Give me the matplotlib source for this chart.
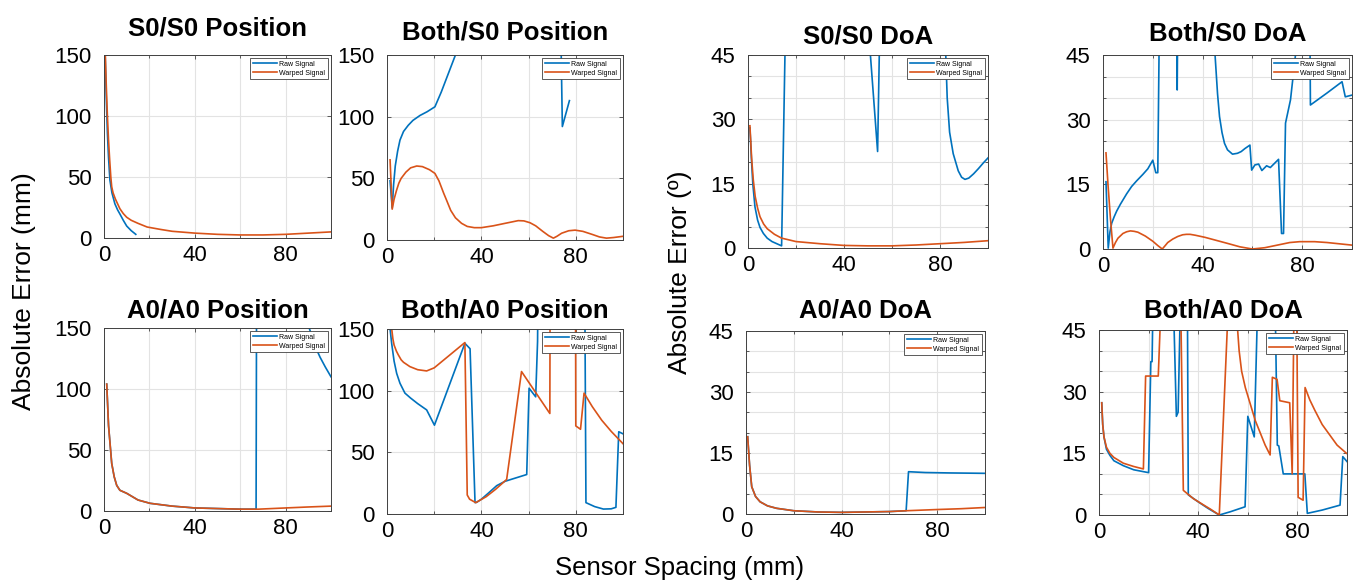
import numpy as np
import matplotlib
matplotlib.use("Agg")
import matplotlib.pyplot as plt
from matplotlib.ticker import MultipleLocator

plt.rcParams['font.family'] = ['Liberation Sans', 'DejaVu Sans']

BLUE = '#0072BD'
ORANGE = '#D95319'

# ---- data ----
# S0/S0 Position
s0s0_pos_raw_x = [0.5, 1, 1.5, 2, 2.6, 3.5, 4.8, 6, 7, 8.5, 10, 12, 14]
s0s0_pos_raw_y = [150, 115, 86, 66, 47.5, 37, 28, 23, 19.7, 14.5, 9.8, 6, 3]
s0s0_pos_warp_x = [0.5, 1, 1.5, 2, 2.5, 3, 3.4, 4, 5, 6, 7, 8.5, 10, 12, 15, 19, 25, 30,
                   40, 50, 60, 70, 80, 90, 100]
s0s0_pos_warp_y = [155, 125, 100, 80, 64, 50, 42, 37, 32, 28, 24, 20, 17, 14.5, 12, 9, 7,
                   5.5, 4, 3, 2.5, 2.5, 3, 4, 5]

# Both/S0 Position
both_s0_pos_raw_x = [1.3, 2.2, 2.8, 3.5, 4.5, 5.5, 7, 9, 11, 14, 17, 20.3, 23, 26, 29, 31,
                     73, 74.3, 77.3]
both_s0_pos_raw_y = [48, 26, 45, 60, 72, 81, 88, 93, 97, 101, 104, 108, 120, 135, 150, 165,
                     250, 92, 113]
both_s0_pos_warp_x = [1.3, 2.2, 3, 4, 5, 6, 8, 10, 12.6, 15, 18, 20.3, 22, 24, 25.3, 27, 29,
                      31.6, 34, 37, 40, 45, 50, 55.6, 58, 60.6, 63, 66, 68.5, 70.5, 72, 74,
                      77, 79.7, 83, 87, 90, 93, 96, 100]
both_s0_pos_warp_y = [65, 25, 33, 40, 46, 50, 55, 58.5, 60, 59.5, 57, 54, 48, 38, 32, 24, 18,
                      13.5, 11, 10, 10, 11.5, 13.5, 15.7, 15.5, 14, 11.5, 7, 3.5, 1.5, 3, 5.5,
                      7.5, 8, 7, 4.5, 2.5, 1.5, 2, 3]

# S0/S0 DoA
s0s0_doa_raw_x = [0.8, 1.5, 2, 2.9, 4, 5, 6.4, 8, 10, 12, 14, 15.4, 16, 50, 51, 54, 54.7,
                  55, 81, 82.4, 83, 84, 85.5, 87.6, 89, 90.4, 92, 94, 96, 98, 100]
s0s0_doa_raw_y = [28, 20, 15, 9.6, 6.5, 4.8, 3.4, 2.3, 1.5, 1, 0.5, 45, 80, 80, 45, 22.5,
                  45, 80, 80, 45, 35, 27, 22, 18, 16.5, 16, 16.3, 17.3, 18.5, 19.8, 21]
s0s0_doa_warp_x = [0.8, 1.5, 2.2, 3, 4, 5, 6.5, 8, 11, 14, 20, 30, 40, 50, 60, 70, 80, 90, 100]
s0s0_doa_warp_y = [28.5, 21, 15.9, 12, 9.3, 7.3, 5.6, 4.5, 3.2, 2.3, 1.5, 1, 0.6, 0.5, 0.5,
                   0.7, 1, 1.3, 1.7]

# Both/S0 DoA
both_s0_doa_raw_x = [1.2, 2.1, 2.8, 3.5, 4.5, 5.5, 7, 9.5, 11.5, 13.5, 16, 18, 20, 21.2, 22,
                     22.5, 23, 29.5, 29.8, 30.1, 44, 45, 46, 46.8, 47.8, 48.8, 50, 52, 54,
                     55.5, 57, 59, 59.7, 61, 62.5, 63.8, 65.7, 67.2, 70.5, 71.7, 72.5, 73.3,
                     75.3, 77.3, 78, 83, 83.3, 90, 96, 97.3, 100]
both_s0_doa_raw_y = [15.6, 0.2, 4, 6, 7.5, 8.8, 10.4, 12.8, 14.5, 15.8, 17.3, 18.6, 20.6,
                     17.7, 17.7, 45, 60, 60, 36.9, 60, 60, 45, 36, 30.7, 27, 24.5, 23, 22,
                     22.2, 22.6, 23.3, 24.1, 18.3, 19.5, 19.7, 18.2, 19.3, 18.9, 20.8, 3.6,
                     3.6, 29.2, 34.6, 45, 60, 60, 33.4, 36.2, 38.8, 35.3, 35.7]
both_s0_doa_warp_x = [1.2, 2, 3, 4, 5, 6, 8, 9.5, 11, 12.5, 14, 17, 20, 22, 23.8, 25, 26, 28,
                      30, 32, 33.5, 35, 37, 41, 45.5, 50, 55, 60, 65, 70, 75, 79, 85, 90,
                      95, 100]
both_s0_doa_warp_y = [22.3, 15, 7, 0.2, 1.5, 2.5, 3.6, 4, 4.2, 4.1, 3.9, 3, 1.8, 0.8, 0,
                      0.8, 1.5, 2.3, 2.9, 3.3, 3.4, 3.4, 3.2, 2.7, 2, 1.3, 0.5, 0, 0.3, 0.9,
                      1.5, 1.7, 1.7, 1.5, 1.2, 0.9]

# A0/A0 Position
a0a0_pos_raw_x = [1.2, 2, 3.4, 4.5, 5.6, 7, 10, 15, 20.3, 30, 40, 50, 60, 67, 67.3, 89,
                  90.4, 93, 95.2, 97.5, 100]
a0a0_pos_raw_y = [104, 70, 39, 28, 21, 17, 14.5, 9, 6.3, 4, 2.5, 2, 1.5, 1.5, 250, 250,
                  150, 135, 126, 118, 110]
a0a0_pos_warp_x = [1.2, 2, 3.4, 4.5, 5.6, 7, 10, 15, 20.3, 30, 40, 50, 60, 68, 80, 90, 100]
a0a0_pos_warp_y = [104, 70, 39, 28, 21, 17, 14.5, 9, 6.3, 4, 2.5, 2, 1.5, 1.5, 2.5, 3.3, 4]

# Both/A0 Position
both_a0_pos_raw_x = [1, 1.3, 2, 3, 4.1, 5.5, 7.6, 10, 13, 16.8, 20.1, 33, 35.2, 37.3, 38, 40,
                     43, 46.5, 50, 55, 59.2, 60.2, 63, 63.8, 64.3, 83.5, 83.9, 84.3, 88,
                     91.7, 95, 97, 98.2, 100]
both_a0_pos_raw_y = [170, 150, 138, 124, 114, 106, 98, 94, 89.5, 84.4, 72, 138.4, 134, 9.2,
                     9.5, 12, 17, 23, 26.5, 29.5, 32, 102, 95, 140, 250, 250, 150, 9.2, 6,
                     4, 4.2, 5.4, 66.7, 65]
both_a0_pos_warp_x = [1.5, 2, 2.5, 3, 4, 4.8, 6, 7, 9.7, 13, 16.8, 20, 33, 34, 35, 37.6, 42,
                      46, 50.7, 57, 69, 69.2, 79.8, 80, 82, 83.5, 87, 91, 95, 100]
both_a0_pos_warp_y = [190, 150, 142, 137, 132, 129, 125, 123, 119.5, 117, 116, 118.5, 139,
                      15.4, 12, 9.2, 14, 20, 28, 115.5, 81.5, 250, 250, 71.4, 68.7, 98, 87,
                      76, 67, 57]

# A0/A0 DoA
a0a0_doa_raw_x = [0.7, 1.5, 2.4, 4, 5.9, 9, 12.8, 20, 30, 40, 50, 60, 67, 68, 75, 85, 100]
a0a0_doa_raw_y = [19, 12, 6.7, 4.3, 3, 2, 1.4, 0.8, 0.5, 0.4, 0.5, 0.6, 0.8, 10.4, 10.2,
                  10.1, 10]
a0a0_doa_warp_x = [0.7, 1.5, 2.4, 4, 5.9, 9, 12.8, 20, 30, 40, 50, 60, 67, 80, 90, 100]
a0a0_doa_warp_y = [19, 12, 6.7, 4.3, 3, 2, 1.4, 0.8, 0.5, 0.4, 0.5, 0.6, 0.8, 1.1, 1.3, 1.6]

# Both/A0 DoA
both_a0_doa_raw_x = [1.1, 1.5, 2, 3, 4.4, 6, 9.8, 14, 20, 20.9, 21.4, 21.6, 22, 30, 30.3,
                     31.2, 31.9, 32.6, 33, 35.4, 35.7, 36, 40, 44, 48.5, 53, 58.9, 60, 62.6,
                     63.7, 64, 71, 71.2, 71.9, 72.5, 74.3, 83, 84, 90, 97.2, 98.3, 100]
both_a0_doa_raw_y = [27.3, 22, 19, 16, 14.5, 13.2, 12, 11, 10.3, 37.3, 37.3, 45, 60, 60, 45,
                     24, 25, 45, 60, 60, 45, 4.9, 3.2, 1.6, 0, 0.8, 2, 24, 19, 45, 60, 60,
                     45, 17, 16.8, 10, 10, 0.4, 1.2, 2.4, 14.2, 13]
both_a0_doa_warp_x = [1.1, 1.5, 2, 3, 4.4, 6, 9.8, 14, 17.9, 18.8, 23.9, 24.6, 25, 32.8,
                      33.1, 34, 38, 42, 45, 48.5, 51.7, 51.9, 55.6, 55.9, 56.5, 57.5, 59,
                      60.9, 63, 65, 67, 69, 69.9, 71.8, 72.9, 76.9, 77.9, 78.8, 79.6, 80.3,
                      82.3, 83.1, 85, 87, 90, 93, 96, 99.8]
both_a0_doa_warp_y = [27.3, 22, 19, 16.5, 15, 14, 12.6, 11.8, 11.2, 33.8, 33.8, 45, 60, 60,
                      45, 6, 4, 2.5, 1.4, 0, 45, 60, 60, 45, 40, 35, 31, 27.2, 23, 20, 17,
                      14.6, 33.5, 33, 27.8, 27.3, 10, 60, 60, 4.3, 3.6, 31, 28, 25.5, 22,
                      19.5, 17, 15]

W, H = 1354, 582
fig = plt.figure(figsize=(W / 100, H / 100), dpi=100)


def make_axes(l, r, t, b):
    return fig.add_axes([l / W, 1 - b / H, (r - l) / W, (b - t) / H])


def panel(box, title, pad_px, rx, ry, wx, wy, doa):
    ax = make_axes(*box)
    ax.plot(rx, ry, color=BLUE, lw=1.2, label='Raw Signal')
    ax.plot(wx, wy, color=ORANGE, lw=1.2, label='Warped Signal')
    ax.set_xlim(0, 100)
    ax.xaxis.set_major_locator(MultipleLocator(40))
    ax.xaxis.set_minor_locator(MultipleLocator(20))
    if doa:
        ax.set_ylim(0, 45)
        ax.yaxis.set_major_locator(MultipleLocator(15))
        ax.yaxis.set_minor_locator(MultipleLocator(5))
    else:
        ax.set_ylim(0, 150)
        ax.yaxis.set_major_locator(MultipleLocator(50))
    ax.grid(True, which='both', color='#e3e3e3', lw=0.8)
    ax.set_axisbelow(True)
    ax.tick_params(which='both', direction='in', top=True, right=True,
                   length=3, width=0.6, color='#404040', labelsize=16)
    ax.tick_params(which='minor', length=2)
    ax.tick_params(axis='y', pad=9)
    ax.tick_params(axis='x', pad=5)
    for s in ax.spines.values():
        s.set_color('#404040')
        s.set_linewidth(0.7)
    ax.set_title(title, fontsize=18.5, fontweight='bold', pad=pad_px * 0.72)
    leg = ax.legend(loc='upper right', fontsize=5, handlelength=3.4,
                    handletextpad=0.4, borderaxespad=0.4, borderpad=0.4,
                    labelspacing=0.3, fancybox=False, framealpha=1)
    leg.get_frame().set_edgecolor('#404040')
    leg.get_frame().set_linewidth(0.6)
    return ax


panel((104, 331, 55, 238), 'S0/S0 Position', 20,
      s0s0_pos_raw_x, s0s0_pos_raw_y, s0s0_pos_warp_x, s0s0_pos_warp_y, False)
panel((387, 623, 55, 240), 'Both/S0 Position', 15,
      both_s0_pos_raw_x, both_s0_pos_raw_y, both_s0_pos_warp_x, both_s0_pos_warp_y, False)
panel((748, 988, 55, 248), 'S0/S0 DoA', 12,
      s0s0_doa_raw_x, s0s0_doa_raw_y, s0s0_doa_warp_x, s0s0_doa_warp_y, True)
panel((1103, 1352, 55, 249), 'Both/S0 DoA', 15,
      both_s0_doa_raw_x, both_s0_doa_raw_y, both_s0_doa_warp_x, both_s0_doa_warp_y, True)
panel((104, 331, 328, 511), 'A0/A0 Position', 11,
      a0a0_pos_raw_x, a0a0_pos_raw_y, a0a0_pos_warp_x, a0a0_pos_warp_y, False)
panel((387, 623, 329, 514), 'Both/A0 Position', 12,
      both_a0_pos_raw_x, both_a0_pos_raw_y, both_a0_pos_warp_x, both_a0_pos_warp_y, False)
panel((746, 985, 331, 514), 'A0/A0 DoA', 13,
      a0a0_doa_raw_x, a0a0_doa_raw_y, a0a0_doa_warp_x, a0a0_doa_warp_y, True)
panel((1099, 1347, 330, 515), 'Both/A0 DoA', 13,
      both_a0_doa_raw_x, both_a0_doa_raw_y, both_a0_doa_warp_x, both_a0_doa_warp_y, True)

fig.text(24 / W, 1 - 291 / H, 'Absolute Error (mm)', rotation=90, fontsize=19,
         ha='center', va='center')
fig.text(680 / W, 1 - 272 / H, 'Absolute Error (º)', rotation=90, fontsize=19,
         ha='center', va='center')
fig.text(680 / W, 1 - 568 / H, 'Sensor Spacing (mm)', fontsize=18.5,
         ha='center', va='center')

fig.savefig('out.png', dpi=100)
